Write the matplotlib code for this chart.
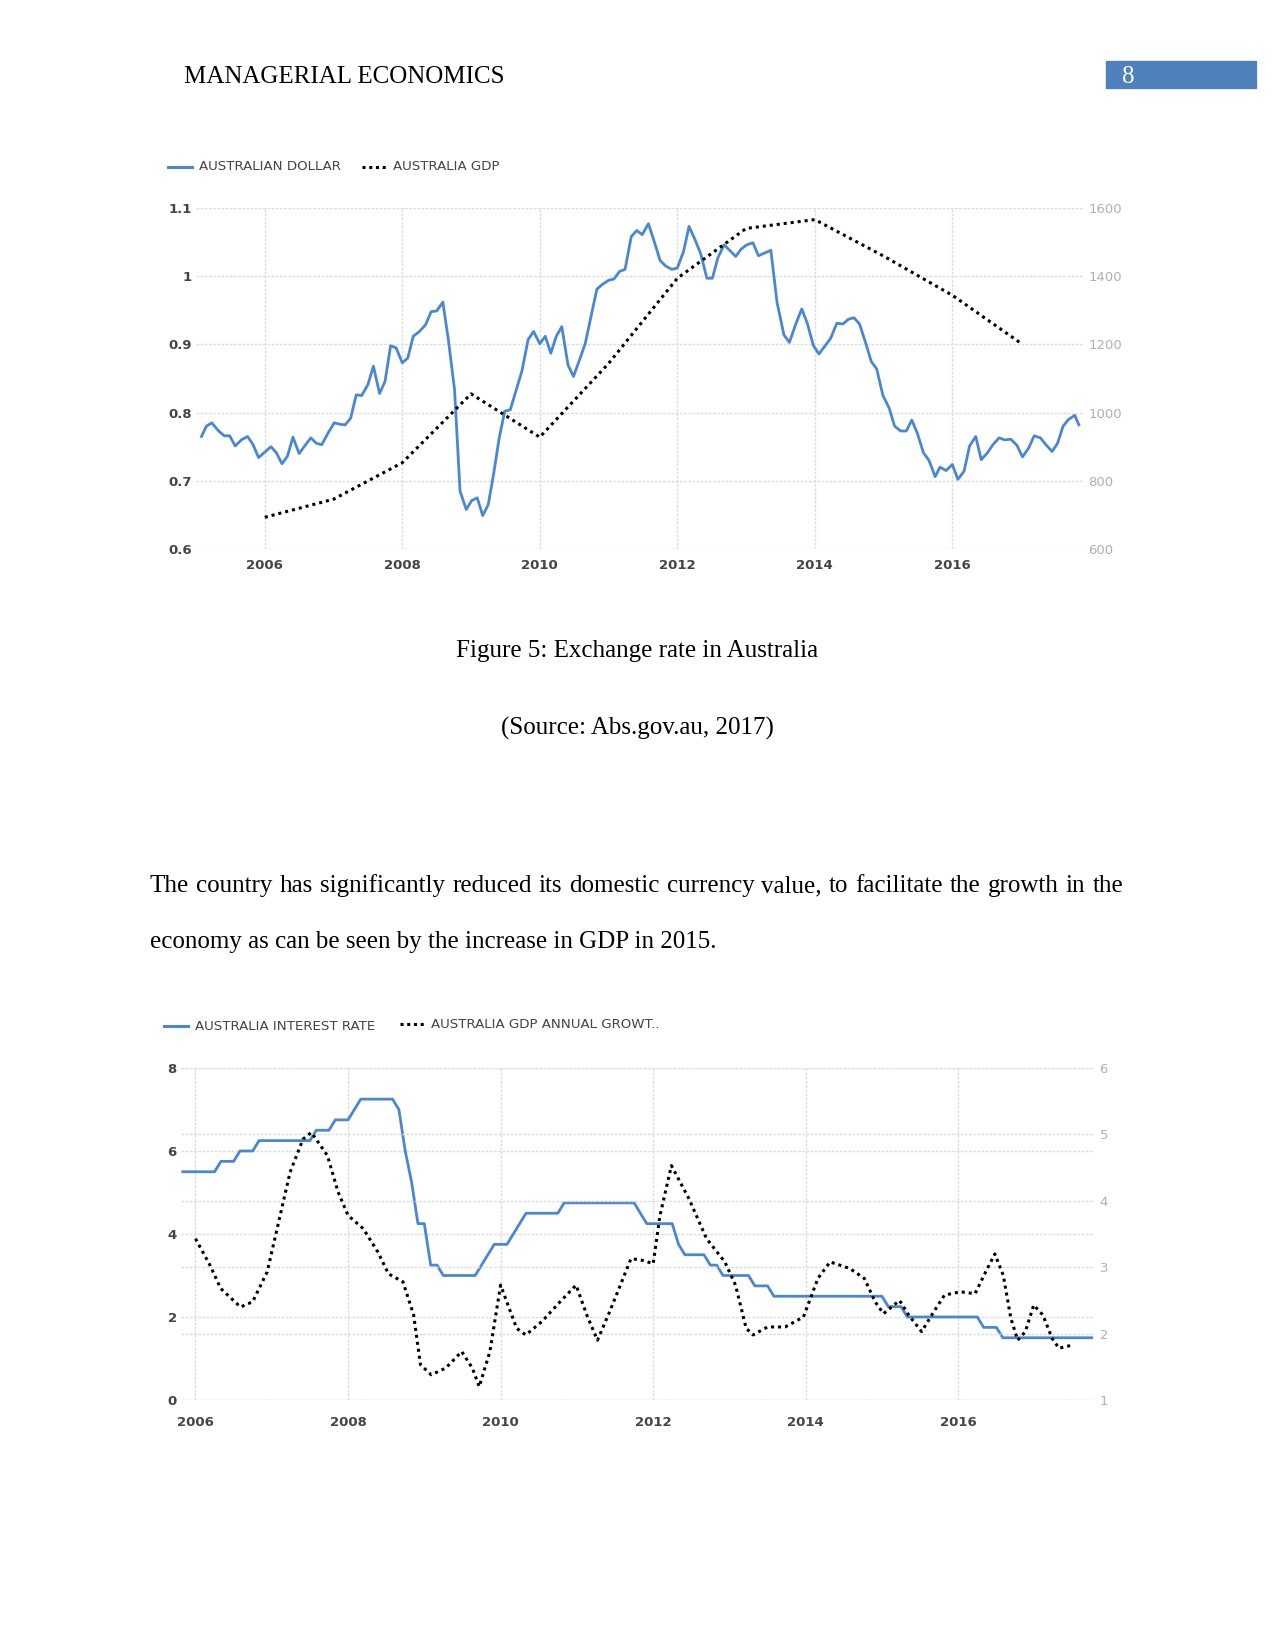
import matplotlib
matplotlib.use('Agg')
import matplotlib.pyplot as plt
from matplotlib.lines import Line2D

########################################
# Data

# Figure 5: AUD/USD (left axis) and GDP in USD bn (right axis)
aud_year = [2005.08, 2005.15, 2005.23, 2005.32, 2005.41, 2005.49, 2005.57, 2005.66, 2005.75, 2005.83,
            2005.91, 2006.00, 2006.09, 2006.17, 2006.25, 2006.33, 2006.41, 2006.50, 2006.58, 2006.67,
            2006.75, 2006.83, 2006.92, 2007.01, 2007.09, 2007.17, 2007.25, 2007.33, 2007.41, 2007.50,
            2007.58, 2007.67, 2007.75, 2007.83, 2007.91, 2008.00, 2008.08, 2008.16, 2008.25, 2008.34,
            2008.42, 2008.50, 2008.59, 2008.67, 2008.76, 2008.84, 2008.93, 2009.01, 2009.09, 2009.17,
            2009.25, 2009.33, 2009.41, 2009.49, 2009.57, 2009.66, 2009.74, 2009.83, 2009.91, 2010.00,
            2010.08, 2010.16, 2010.24, 2010.32, 2010.41, 2010.49, 2010.58, 2010.66, 2010.74, 2010.83,
            2010.91, 2011.00, 2011.08, 2011.16, 2011.24, 2011.33, 2011.41, 2011.49, 2011.58, 2011.67,
            2011.75, 2011.83, 2011.92, 2012.00, 2012.09, 2012.17, 2012.26, 2012.34, 2012.43, 2012.51,
            2012.59, 2012.68, 2012.76, 2012.85, 2012.93, 2013.01, 2013.10, 2013.18, 2013.27, 2013.36,
            2013.45, 2013.55, 2013.63, 2013.72, 2013.81, 2013.89, 2013.98, 2014.06, 2014.15, 2014.23,
            2014.32, 2014.41, 2014.49, 2014.57, 2014.65, 2014.74, 2014.82, 2014.90, 2014.99, 2015.08,
            2015.16, 2015.25, 2015.33, 2015.41, 2015.49, 2015.58, 2015.66, 2015.75, 2015.82, 2015.91,
            2016.00, 2016.08, 2016.17, 2016.25, 2016.34, 2016.42, 2016.51, 2016.59, 2016.68, 2016.76,
            2016.85, 2016.94, 2017.02, 2017.11, 2017.19, 2017.28, 2017.36, 2017.45, 2017.53, 2017.61,
            2017.69, 2017.78, 2017.84]
aud_value = [0.765, 0.780, 0.785, 0.774, 0.766, 0.766, 0.751, 0.760, 0.765, 0.753,
             0.734, 0.742, 0.750, 0.741, 0.725, 0.736, 0.764, 0.740, 0.751, 0.763,
             0.755, 0.753, 0.770, 0.785, 0.783, 0.782, 0.792, 0.826, 0.825, 0.841,
             0.868, 0.828, 0.846, 0.898, 0.895, 0.873, 0.880, 0.912, 0.919, 0.929,
             0.948, 0.949, 0.962, 0.907, 0.834, 0.685, 0.658, 0.671, 0.675, 0.649,
             0.665, 0.711, 0.763, 0.802, 0.804, 0.834, 0.861, 0.907, 0.919, 0.901,
             0.912, 0.887, 0.912, 0.926, 0.870, 0.853, 0.878, 0.901, 0.939, 0.981,
             0.988, 0.994, 0.996, 1.007, 1.010, 1.058, 1.067, 1.061, 1.077, 1.049,
             1.023, 1.015, 1.010, 1.012, 1.036, 1.073, 1.053, 1.033, 0.997, 0.997,
             1.027, 1.046, 1.038, 1.029, 1.040, 1.046, 1.049, 1.030, 1.034, 1.038,
             0.962, 0.914, 0.903, 0.929, 0.952, 0.931, 0.898, 0.886, 0.898, 0.909,
             0.931, 0.930, 0.937, 0.939, 0.930, 0.902, 0.875, 0.864, 0.825, 0.807,
             0.780, 0.773, 0.773, 0.789, 0.770, 0.741, 0.730, 0.706, 0.720, 0.715,
             0.724, 0.702, 0.714, 0.751, 0.765, 0.731, 0.741, 0.753, 0.763, 0.760,
             0.761, 0.752, 0.735, 0.748, 0.766, 0.763, 0.753, 0.743, 0.755, 0.780,
             0.790, 0.796, 0.782]

gdp_year = [2006, 2007, 2008, 2009, 2010, 2011, 2012, 2013, 2014, 2015, 2016, 2017]
gdp_value = [693, 746, 853, 1055, 928, 1144, 1394, 1540, 1566, 1459, 1344, 1203]

fig5_xticks = [2006, 2008, 2010, 2012, 2014, 2016]
fig5_left_ticks = [0.6, 0.7, 0.8, 0.9, 1.0, 1.1]
fig5_left_labels = ['0.6', '0.7', '0.8', '0.9', '1', '1.1']
fig5_right_ticks = [600, 800, 1000, 1200, 1400, 1600]

# Second figure: cash rate (left axis, monthly Nov 2005 - Oct 2017) and GDP annual growth (right axis)
rate_start_year = 2005 + 10 / 12
rate_value = [5.5, 5.5,
              5.5, 5.5, 5.5, 5.5, 5.75, 5.75, 5.75, 6.0, 6.0, 6.0, 6.25, 6.25,
              6.25, 6.25, 6.25, 6.25, 6.25, 6.25, 6.25, 6.5, 6.5, 6.5, 6.75, 6.75,
              6.75, 7.0, 7.25, 7.25, 7.25, 7.25, 7.25, 7.25, 7.0, 6.0, 5.25, 4.25,
              4.25, 3.25, 3.25, 3.0, 3.0, 3.0, 3.0, 3.0, 3.0, 3.25, 3.5, 3.75,
              3.75, 3.75, 4.0, 4.25, 4.5, 4.5, 4.5, 4.5, 4.5, 4.5, 4.75, 4.75,
              4.75, 4.75, 4.75, 4.75, 4.75, 4.75, 4.75, 4.75, 4.75, 4.75, 4.5, 4.25,
              4.25, 4.25, 4.25, 4.25, 3.75, 3.5, 3.5, 3.5, 3.5, 3.25, 3.25, 3.0,
              3.0, 3.0, 3.0, 3.0, 2.75, 2.75, 2.75, 2.5, 2.5, 2.5, 2.5, 2.5,
              2.5, 2.5, 2.5, 2.5, 2.5, 2.5, 2.5, 2.5, 2.5, 2.5, 2.5, 2.5,
              2.5, 2.25, 2.25, 2.25, 2.0, 2.0, 2.0, 2.0, 2.0, 2.0, 2.0, 2.0,
              2.0, 2.0, 2.0, 2.0, 1.75, 1.75, 1.75, 1.5, 1.5, 1.5, 1.5, 1.5,
              1.5, 1.5, 1.5, 1.5, 1.5, 1.5, 1.5, 1.5, 1.5, 1.5]
rate_year = [rate_start_year + i / 12 for i in range(len(rate_value))]

growth_year = [2006.00, 2006.19, 2006.33, 2006.59, 2006.75, 2006.94, 2007.08, 2007.24, 2007.41, 2007.52,
               2007.73, 2007.87, 2008.00, 2008.20, 2008.39, 2008.53, 2008.72, 2008.86, 2008.95, 2009.09,
               2009.28, 2009.49, 2009.63, 2009.72, 2009.86, 2010.00, 2010.21, 2010.33, 2010.54, 2010.78,
               2010.99, 2011.13, 2011.27, 2011.43, 2011.71, 2011.88, 2012.00, 2012.09, 2012.24, 2012.47,
               2012.70, 2012.94, 2013.08, 2013.22, 2013.31, 2013.50, 2013.73, 2013.97, 2014.16, 2014.32,
               2014.58, 2014.77, 2014.91, 2015.02, 2015.23, 2015.35, 2015.52, 2015.68, 2015.82, 2016.03,
               2016.22, 2016.36, 2016.48, 2016.59, 2016.69, 2016.78, 2016.88, 2016.99, 2017.11, 2017.23,
               2017.32, 2017.51]
growth_value = [3.43, 3.03, 2.68, 2.40, 2.48, 2.93, 3.63, 4.43, 4.93, 5.03,
                4.68, 4.13, 3.78, 3.58, 3.23, 2.90, 2.78, 2.28, 1.53, 1.38,
                1.48, 1.73, 1.48, 1.20, 1.73, 2.73, 2.08, 1.98, 2.18, 2.48,
                2.73, 2.28, 1.90, 2.33, 3.13, 3.10, 3.05, 3.78, 4.53, 4.03,
                3.43, 3.08, 2.73, 2.08, 1.98, 2.10, 2.10, 2.25, 2.83, 3.08,
                2.98, 2.83, 2.48, 2.30, 2.50, 2.28, 2.03, 2.33, 2.58, 2.63,
                2.60, 2.93, 3.20, 2.88, 2.23, 1.90, 2.03, 2.43, 2.28, 1.93,
                1.78, 1.83]

fig6_xticks = [2006, 2008, 2010, 2012, 2014, 2016]
fig6_left_ticks = [0, 2, 4, 6, 8]
fig6_right_ticks = [1, 2, 3, 4, 5, 6]

########################################
# Page setup

W, H = 1275, 1650
fig = plt.figure(figsize=(W / 100, H / 100), dpi=100)

def fx(x):
    return x / W

def fy(y):
    return 1 - y / H

serif = 'Liberation Serif'
body_size = 18
blue = '#4a87d2'
grid_col = '#dcdcdc'
label_col = '#444444'
right_col = '#b0b0b0'

# header
fig.text(fx(184), fy(83), 'MANAGERIAL ECONOMICS', family=serif, fontsize=body_size, va='baseline', ha='left')
fig.patches.append(plt.Rectangle((fx(1106), fy(88)), fx(150), 27 / H, transform=fig.transFigure,
                                 color='#4f81bd', zorder=0))
fig.text(fx(1128), fy(83), '8', family=serif, fontsize=body_size, color='white', va='baseline', ha='center')


def style_axes(ax, axr, xticks, left_ticks, left_labels, right_ticks):
    for a in (ax, axr):
        for s in a.spines.values():
            s.set_visible(False)
    ax.set_xticks(xticks)
    ax.set_xticklabels([str(t) for t in xticks])
    ax.set_yticks(left_ticks)
    ax.set_yticklabels(left_labels)
    axr.set_yticks(right_ticks)
    axr.set_yticklabels([str(t) for t in right_ticks])
    ax.tick_params(axis='both', length=0, labelsize=9.5, labelcolor=label_col)
    ax.tick_params(axis='y', pad=3)
    ax.tick_params(axis='x', pad=7.5)
    axr.tick_params(axis='y', length=0, labelsize=9.5, labelcolor=right_col, pad=4)
    for lab in ax.get_xticklabels() + ax.get_yticklabels():
        lab.set_fontweight('bold')
    ax.grid(True, color=grid_col, lw=1, ls=(0, (2, 1)))
    ax.set_axisbelow(True)


def legend_entry(x0, y, text, dotted):
    ls = (0, (1, 1.2)) if dotted else '-'
    col = 'black' if dotted else blue
    fig.add_artist(Line2D([fx(x0), fx(x0 + 24)], [fy(y), fy(y)], transform=fig.transFigure,
                          color=col, lw=2.2, ls=ls))
    fig.text(fx(x0 + 31), fy(y), text, fontsize=9.6, color=label_col, va='center', ha='left')


########################################
# Figure 5

ax1 = fig.add_axes([fx(196), fy(549), fx(1083) - fx(196), fy(208) - fy(549)])
ax1r = ax1.twinx()
ax1.plot(aud_year, aud_value, color=blue, lw=2.0, solid_joinstyle='round')
ax1r.plot(gdp_year, gdp_value, color='black', lw=2.2, ls=(0, (1, 1.3)))
ax1.set_xlim(2005.0, 2017.9)
ax1.set_ylim(0.6, 1.1)
ax1r.set_ylim(600, 1600)
style_axes(ax1, ax1r, fig5_xticks, fig5_left_ticks, fig5_left_labels, fig5_right_ticks)

legend_entry(168, 167, 'AUSTRALIAN DOLLAR', False)
legend_entry(362, 167, 'AUSTRALIA GDP', True)

fig.text(0.5, fy(657), 'Figure 5: Exchange rate in Australia', family=serif, fontsize=body_size,
         ha='center', va='baseline')
fig.text(0.5, fy(735), '(Source: Abs.gov.au, 2017)', family=serif, fontsize=body_size,
         ha='center', va='baseline')

# body paragraph (first line justified)
line1 = 'The country has significantly reduced its domestic currency value, to facilitate the growth in the'
line2 = 'economy as can be seen by the increase in GDP in 2015.'
fig.canvas.draw()
renderer = fig.canvas.get_renderer()
words = line1.split()
widths = []
for w in words:
    t = fig.text(0, 0, w, family=serif, fontsize=body_size)
    widths.append(t.get_window_extent(renderer).width)
    t.remove()
left, right = 150, 1123
gap = (right - left - sum(widths)) / (len(words) - 1)
x = left
for w, wd in zip(words, widths):
    fig.text(fx(x), fy(892), w, family=serif, fontsize=body_size, ha='left', va='baseline')
    x += wd + gap
fig.text(fx(150), fy(948), line2, family=serif, fontsize=body_size, ha='left', va='baseline')

########################################
# Figure 6

ax2 = fig.add_axes([fx(181), fy(1400), fx(1094) - fx(181), fy(1068) - fy(1400)])
ax2r = ax2.twinx()
ax2.plot(rate_year, rate_value, color=blue, lw=2.0)
ax2r.plot(growth_year, growth_value, color='black', lw=2.2, ls=(0, (1, 1.3)))
ax2.set_xlim(2005.81, 2017.78)
ax2.set_ylim(0, 8)
ax2r.set_ylim(1, 6)
style_axes(ax2, ax2r, fig6_xticks, fig6_left_ticks, [str(t) for t in fig6_left_ticks], fig6_right_ticks)
ax2r.grid(True, axis='y', color=grid_col, lw=1, ls=(0, (2, 1)))
ax2r.set_axisbelow(True)
ax2.tick_params(axis='x', pad=11.5)

legend_entry(164, 1026, 'AUSTRALIA INTEREST RATE', False)
legend_entry(400, 1024, 'AUSTRALIA GDP ANNUAL GROWT..', True)

fig.savefig('out.png', dpi=100)
